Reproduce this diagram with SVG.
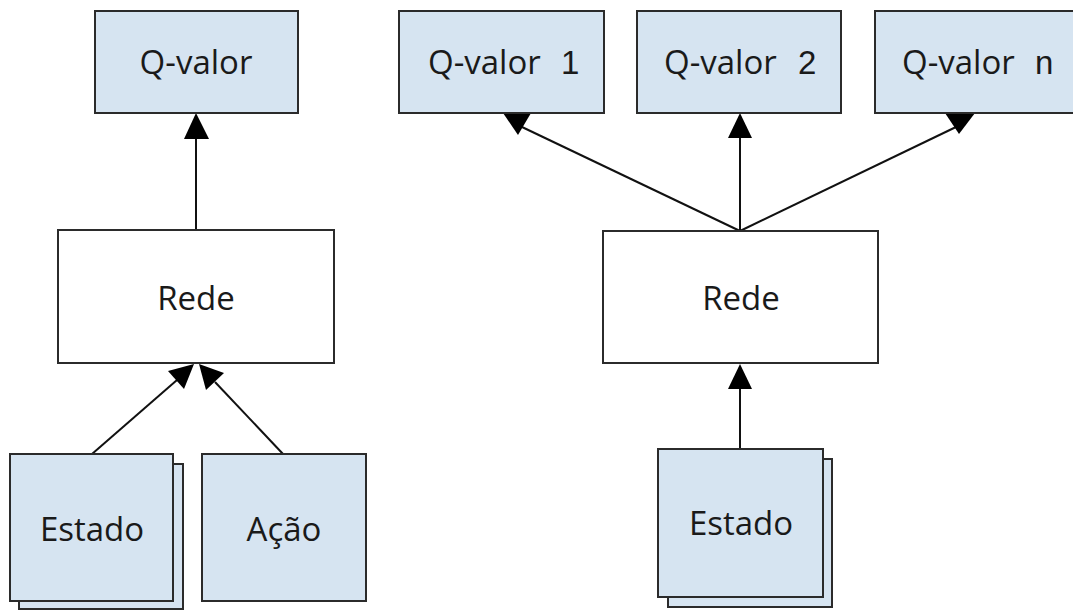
<svg xmlns="http://www.w3.org/2000/svg" width="1073" height="610" viewBox="0 0 1073 610">
  <style>
    .box { fill: #d6e4f1; stroke: #2b2b2b; stroke-width: 2; }
    .net { fill: #ffffff; stroke: #2b2b2b; stroke-width: 2; }
    .lbl { font-family: "Open Sans", "Noto Sans", sans-serif; font-size: 33px; fill: #1a1a1a; }
    .mid { text-anchor: middle; }
    .num { font-family: "Liberation Sans", Arial, sans-serif; }
    .edge { stroke: #111111; stroke-width: 2; fill: none; }
    .head { fill: #000000; stroke: none; }
  </style>
  <rect x="0" y="0" width="1073" height="610" fill="#ffffff"/>

  <!-- connectors (drawn under the boxes) -->
  <g id="connectors">
    <!-- left: single Q-value network -->
    <line class="edge" x1="196" y1="230" x2="196" y2="138"/>
    <polygon class="head" points="196,113 184,139 209,139"/>
    <line class="edge" x1="92" y1="454" x2="177" y2="380"/>
    <polygon class="head" points="194,364 184,389 168,371"/>
    <line class="edge" x1="283" y1="454" x2="215" y2="382"/>
    <polygon class="head" points="199,364 224,373 206,390"/>
    <!-- right: one output per action -->
    <line class="edge" x1="740" y1="231" x2="522" y2="127"/>
    <polygon class="head" points="503,113 531,113 518,135"/>
    <line class="edge" x1="740" y1="231" x2="740" y2="137"/>
    <polygon class="head" points="740,113 728,138 752,138"/>
    <line class="edge" x1="740" y1="231" x2="956" y2="127"/>
    <polygon class="head" points="945,113 975,113 959,134"/>
    <line class="edge" x1="740" y1="449" x2="740" y2="388"/>
    <polygon class="head" points="740,364 728,389 752,389"/>
  </g>

  <!-- left diagram -->
  <g id="qvalor">
    <rect class="box" x="95" y="11" width="203" height="102"/>
    <text class="lbl mid" x="196" y="74">Q-valor</text>
  </g>
  <g id="rede-left">
    <rect class="net" x="58" y="230" width="276" height="133"/>
    <text class="lbl mid" x="196" y="310">Rede</text>
  </g>
  <g id="estado-left">
    <rect class="box" x="19" y="464" width="164" height="145"/>
    <rect class="box" x="10" y="454" width="163" height="147"/>
    <text class="lbl mid" x="92" y="541">Estado</text>
  </g>
  <g id="acao">
    <rect class="box" x="202" y="454" width="164" height="147"/>
    <text class="lbl mid" x="284" y="541">Ação</text>
  </g>

  <!-- right diagram -->
  <g id="qvalor-1">
    <rect class="box" x="399" y="11" width="205" height="102"/>
    <text class="lbl" x="428" y="74">Q-valor<tspan class="num" x="561">1</tspan></text>
  </g>
  <g id="qvalor-2">
    <rect class="box" x="637" y="11" width="204" height="102"/>
    <text class="lbl" x="664" y="74">Q-valor<tspan class="num" x="798">2</tspan></text>
  </g>
  <g id="qvalor-n">
    <rect class="box" x="875" y="11" width="210" height="102"/>
    <text class="lbl" x="902" y="74">Q-valor<tspan class="num" x="1035">n</tspan></text>
  </g>
  <g id="rede-right">
    <rect class="net" x="603" y="231" width="275" height="132"/>
    <text class="lbl mid" x="741" y="310">Rede</text>
  </g>
  <g id="estado-right">
    <rect class="box" x="668" y="459" width="164" height="148"/>
    <rect class="box" x="658" y="449" width="165" height="148"/>
    <text class="lbl mid" x="741" y="535">Estado</text>
  </g>
</svg>
